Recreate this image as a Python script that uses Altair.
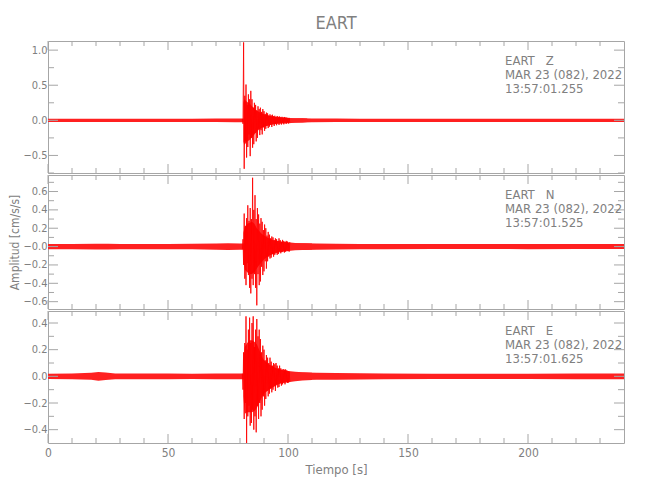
import altair as alt
import pandas as pd

FONT = "Liberation Sans Narrow, DejaVu Sans Condensed, Roboto, sans-serif"
RED = "#ff0000"
BAND = "#ff2020"
TXT = "#808080"
AX = "#a6a6a6"
W = 576

TITLE = "EART"
X_TITLE = "Tiempo [s]"
Y_TITLE = "Amplitud [cm/s/s]"

X_DOMAIN = [0, 240]
X_MAJOR = [0, 50, 100, 150, 200]
X_MINOR = [10, 20, 30, 40, 60, 70, 80, 90, 110, 120, 130, 140,
           160, 170, 180, 190, 210, 220, 230]

# ---------------- Z component ----------------
Z_DOMAIN = [-0.75, 1.13]
Z_MAJOR = [-0.5, 0.0, 0.5, 1.0]
Z_MINOR = [-0.75, -0.25, 0.25, 0.75]
Z_NOISE_T = [0, 10, 20, 30, 40, 50, 60, 70, 78, 81, 106, 110, 120, 130, 140, 160, 180, 200, 220, 240]
Z_NOISE_HI = [0.022, 0.022, 0.024, 0.022, 0.022, 0.022, 0.024, 0.025, 0.026, 0.026,
              0.03, 0.027, 0.025, 0.024, 0.022, 0.022, 0.022, 0.022, 0.024, 0.024]
Z_NOISE_LO = [-0.022, -0.023, -0.024, -0.022, -0.022, -0.023, -0.024, -0.025, -0.026, -0.026,
              -0.03, -0.027, -0.025, -0.024, -0.023, -0.022, -0.022, -0.023, -0.024, -0.024]
Z_CORE_T = [81.4, 81.8, 83, 84, 85, 86, 87, 88, 89, 90, 92, 94, 96, 98, 100, 103, 106, 108]
Z_CORE_HI = [0.25, 0.30, 0.26, 0.24, 0.2, 0.17, 0.14, 0.12, 0.1, 0.085, 0.065, 0.05,
             0.045, 0.04, 0.035, 0.03, 0.028, 0.025]
Z_CORE_LO = [-0.3, -0.35, -0.3, -0.28, -0.24, -0.2, -0.16, -0.13, -0.11, -0.09, -0.07,
             -0.06, -0.05, -0.045, -0.04, -0.034, -0.03, -0.025]
Z_T0 = 81.0
Z_DT = 0.25
Z_WAVE = [0.02, -0.05, 1.11, -0.69, 0.35, -0.30, 0.51, -0.53, 0.22, -0.38,
          0.37, -0.20, 0.30, -0.51, 0.42, -0.25, 0.30, -0.39, 0.18, -0.34,
          0.25, -0.18, 0.22, -0.30, 0.14, -0.25, 0.20, -0.12, 0.16, -0.21,
          0.18, -0.14, 0.12, -0.20, 0.16, -0.10, 0.13, -0.15, 0.09, -0.12,
          0.11, -0.08, 0.10, -0.11, 0.07, -0.09, 0.085, -0.06, 0.07, -0.095,
          0.08, -0.05, 0.06, -0.08, 0.065, -0.05, 0.05, -0.07, 0.062, -0.04,
          0.05, -0.065, 0.055, -0.04, 0.045, -0.06, 0.05, -0.035, 0.04, -0.057,
          0.048, -0.03, 0.04, -0.05, 0.04, -0.03, 0.035, -0.045, 0.035, -0.03]
Z_INFO = ["EART   Z", "MAR 23 (082), 2022", "13:57:01.255"]

# ---------------- N component ----------------
N_DOMAIN = [-0.68, 0.78]
N_MAJOR = [-0.6, -0.4, -0.2, 0.0, 0.2, 0.4, 0.6]
N_MINOR = [-0.5, -0.3, -0.1, 0.1, 0.3, 0.5, 0.7]
N_NOISE_T = [0, 10, 20, 25, 30, 40, 50, 60, 70, 75, 80, 81, 107, 112, 120, 130, 140, 160, 180, 200, 220, 240]
N_NOISE_HI = [0.028, 0.028, 0.032, 0.032, 0.028, 0.028, 0.028, 0.03, 0.034, 0.036, 0.034,
              0.034, 0.036, 0.034, 0.031, 0.029, 0.028, 0.027, 0.027, 0.027, 0.027, 0.027]
N_NOISE_LO = [-0.028, -0.028, -0.032, -0.033, -0.028, -0.028, -0.029, -0.03, -0.034, -0.036, -0.034,
              -0.034, -0.036, -0.034, -0.031, -0.029, -0.028, -0.027, -0.027, -0.028, -0.027, -0.027]
N_CORE_T = [81.4, 82, 83, 84, 85, 86, 87, 88, 89, 90, 92, 94, 96, 98, 100, 103, 106, 110]
N_CORE_HI = [0.15, 0.22, 0.25, 0.26, 0.27, 0.25, 0.2, 0.17, 0.14, 0.12, 0.09, 0.07, 0.06,
             0.052, 0.046, 0.04, 0.036, 0.033]
N_CORE_LO = [-0.15, -0.25, -0.28, -0.3, -0.3, -0.28, -0.24, -0.2, -0.17, -0.14, -0.1, -0.08,
             -0.065, -0.055, -0.047, -0.041, -0.037, -0.033]
N_T0 = 81.0
N_DT = 0.25
N_WAVE = [-0.03, 0.08, -0.20, 0.36, -0.35, 0.22, -0.42, 0.31, -0.18, 0.45,
          -0.31, 0.28, -0.45, 0.42, -0.51, 0.30, -0.35, 0.75, -0.42, 0.40,
          -0.30, 0.56, -0.45, 0.30, -0.64, 0.42, -0.30, 0.35, -0.42, 0.25,
          -0.38, 0.31, -0.22, 0.27, -0.31, 0.18, -0.27, 0.24, -0.16, 0.20,
          -0.24, 0.12, -0.16, 0.16, -0.11, 0.13, -0.13, 0.09, -0.12, 0.11,
          -0.08, 0.10, -0.11, 0.07, -0.09, 0.09, -0.06, 0.08, -0.09, 0.06,
          -0.08, 0.09, -0.05, 0.07, -0.073, 0.05, -0.06, 0.073, -0.045, 0.06,
          -0.065, 0.045, -0.055, 0.062, -0.04, 0.055, -0.05, 0.04, -0.055, 0.05]
N_INFO = ["EART   N", "MAR 23 (082), 2022", "13:57:01.525"]

# ---------------- E component ----------------
E_DOMAIN = [-0.50, 0.49]
E_MAJOR = [-0.4, -0.2, 0.0, 0.2, 0.4]
E_MINOR = [-0.3, -0.1, 0.1, 0.3]
E_NOISE_T = [0, 10, 18, 21, 24, 28, 35, 50, 60, 70, 80, 81, 107, 112, 120, 130, 140, 160, 180, 200, 220, 240]
E_NOISE_HI = [0.02, 0.022, 0.026, 0.032, 0.028, 0.022, 0.022, 0.022, 0.02, 0.022, 0.022,
              0.022, 0.028, 0.026, 0.025, 0.024, 0.022, 0.02, 0.02, 0.02, 0.022, 0.022]
E_NOISE_LO = [-0.02, -0.022, -0.026, -0.034, -0.028, -0.022, -0.022, -0.022, -0.02, -0.022, -0.022,
              -0.022, -0.028, -0.026, -0.025, -0.024, -0.022, -0.02, -0.02, -0.02, -0.022, -0.022]
E_CORE_T = [81.4, 82, 83, 84, 85, 86, 87, 88, 89, 90, 92, 94, 96, 98, 100, 103, 106, 110]
E_CORE_HI = [0.12, 0.22, 0.25, 0.27, 0.27, 0.26, 0.24, 0.2, 0.15, 0.12, 0.09, 0.07, 0.055,
             0.045, 0.04, 0.034, 0.03, 0.027]
E_CORE_LO = [-0.15, -0.28, -0.27, -0.27, -0.27, -0.26, -0.24, -0.2, -0.16, -0.13, -0.1,
             -0.08, -0.06, -0.05, -0.044, -0.037, -0.032, -0.027]
E_T0 = 81.0
E_DT = 0.25
E_WAVE = [0.02, -0.10, 0.18, -0.32, 0.25, -0.20, 0.45, -0.50, 0.20, -0.30,
          0.35, -0.22, 0.44, -0.37, 0.25, -0.35, 0.40, -0.25, 0.45, -0.40,
          0.22, -0.30, 0.35, -0.42, 0.43, -0.22, 0.30, -0.32, 0.35, -0.20,
          0.28, -0.30, 0.18, -0.25, 0.23, -0.15, 0.20, -0.22, 0.12, -0.17,
          0.16, -0.11, 0.14, -0.15, 0.10, -0.13, 0.14, -0.09, 0.11, -0.12,
          0.08, -0.10, 0.10, -0.07, 0.09, -0.11, 0.10, -0.06, 0.08, -0.085,
          0.06, -0.08, 0.08, -0.05, 0.06, -0.07, 0.05, -0.06, 0.055, -0.045,
          0.05, -0.06, 0.052, -0.04, 0.045, -0.05, 0.04, -0.047, 0.035, -0.04]
E_INFO = ["EART   E", "MAR 23 (082), 2022", "13:57:01.625"]

FMT = "format(datum.value, '.1f')"
FMT_NEG0 = "datum.value == 0 ? '\u22120.0' : format(datum.value, '.1f')"


def panel(domain, major, minor, noise_t, noise_hi, noise_lo, core_t, core_hi, core_lo,
          t0, dt, wave, info, h, label_expr, x_labels=False, y_title=None):
    xs = alt.Scale(domain=X_DOMAIN, nice=False, zero=False)
    ys = alt.Scale(domain=domain, nice=False, zero=False)

    x_kw = dict(values=X_MAJOR, ticks=False, domain=False, grid=False,
                labelFont=FONT, labelFontSize=12, labelColor=TXT,
                labelPadding=4, labelFlush=False, labels=x_labels)
    if x_labels:
        x_axis = alt.Axis(**x_kw, title=X_TITLE, titleFont=FONT, titleFontSize=13,
                          titleFontWeight="normal", titleColor=TXT, titlePadding=5)
    else:
        x_axis = alt.Axis(**x_kw, title=None)

    y_kw = dict(values=major, ticks=False, domain=False, grid=False,
                labelFont=FONT, labelFontSize=11, labelColor=TXT,
                labelPadding=1, labelExpr=label_expr, labelFlush=False)
    if y_title:
        y_axis = alt.Axis(**y_kw, title=y_title, titleFont=FONT, titleFontSize=12,
                          titleFontWeight="normal", titleColor=TXT, titlePadding=1)
    else:
        y_axis = alt.Axis(**y_kw, title=None)

    def X(f):
        return alt.X(f, scale=xs, axis=x_axis)

    def Y(f):
        return alt.Y(f, scale=ys, axis=y_axis)

    noise = pd.DataFrame({"t": noise_t, "hi": noise_hi, "lo": noise_lo})
    band = alt.Chart(noise).mark_area(color=BAND, opacity=1, clip=True).encode(
        x=X("t:Q"), y=Y("hi:Q"), y2="lo:Q")

    core = pd.DataFrame({"t": core_t, "hi": core_hi, "lo": core_lo})
    core_area = alt.Chart(core).mark_area(color=BAND, opacity=1, clip=True).encode(
        x=X("t:Q"), y=Y("hi:Q"), y2="lo:Q")

    wdf = pd.DataFrame({"t": [t0 + i * dt for i in range(len(wave))], "v": wave})
    line = alt.Chart(wdf).mark_line(color=RED, strokeWidth=1, opacity=0.85, clip=True).encode(
        x=X("t:Q"), y=Y("v:Q"))

    layers = [band, core_area, line]

    def xtick(vals, length, top):
        df = pd.DataFrame({"v": vals})
        y0, y1 = (0, length) if top else (h, h - length)
        return alt.Chart(df).mark_rule(color=AX, strokeWidth=1).encode(
            x=X("v:Q"), y=alt.value(y0), y2=alt.value(y1))

    def ytick(vals, length, right):
        df = pd.DataFrame({"v": vals})
        x0, x1 = (W, W - length) if right else (0, length)
        return alt.Chart(df).mark_rule(color=AX, strokeWidth=1).encode(
            y=Y("v:Q"), x=alt.value(x0), x2=alt.value(x1))

    layers += [xtick(X_MAJOR, 9, False), xtick(X_MINOR, 5, False),
               xtick(X_MAJOR, 9, True), xtick(X_MINOR, 5, True),
               ytick(major, 10, False), ytick(minor, 6, False),
               ytick(major, 10, True), ytick(minor, 6, True)]

    tdf = pd.DataFrame({"info": ["\n".join(s.replace(" ", "\u00a0") for s in info)]})
    txt = alt.Chart(tdf).mark_text(align="left", baseline="top", lineBreak="\n",
                                   lineHeight=14, font=FONT, fontSize=13,
                                   color=TXT).encode(
        x=alt.value(457), y=alt.value(14), text="info:N")
    layers.append(txt)
    return alt.layer(*layers).properties(width=W, height=h)


top = panel(Z_DOMAIN, Z_MAJOR, Z_MINOR, Z_NOISE_T, Z_NOISE_HI, Z_NOISE_LO,
            Z_CORE_T, Z_CORE_HI, Z_CORE_LO,
            Z_T0, Z_DT, Z_WAVE, Z_INFO, 132, FMT).properties(
    title=alt.TitleParams(text=TITLE, font=FONT, fontSize=18, fontWeight="normal",
                          color=TXT, anchor="middle", frame="group", offset=8))
mid = panel(N_DOMAIN, N_MAJOR, N_MINOR, N_NOISE_T, N_NOISE_HI, N_NOISE_LO,
            N_CORE_T, N_CORE_HI, N_CORE_LO,
            N_T0, N_DT, N_WAVE, N_INFO, 134, FMT_NEG0, y_title=Y_TITLE)
bot = panel(E_DOMAIN, E_MAJOR, E_MINOR, E_NOISE_T, E_NOISE_HI, E_NOISE_LO,
            E_CORE_T, E_CORE_HI, E_CORE_LO,
            E_T0, E_DT, E_WAVE, E_INFO, 132, FMT, x_labels=True)

chart = alt.vconcat(top, mid, bot, spacing=0).configure_view(
    stroke=AX, strokeWidth=1).properties(
    padding={"left": 0, "top": 6, "right": 5, "bottom": 5},
    background="white")

chart.save("out.html", embed_options={"renderer": "svg", "actions": False})
